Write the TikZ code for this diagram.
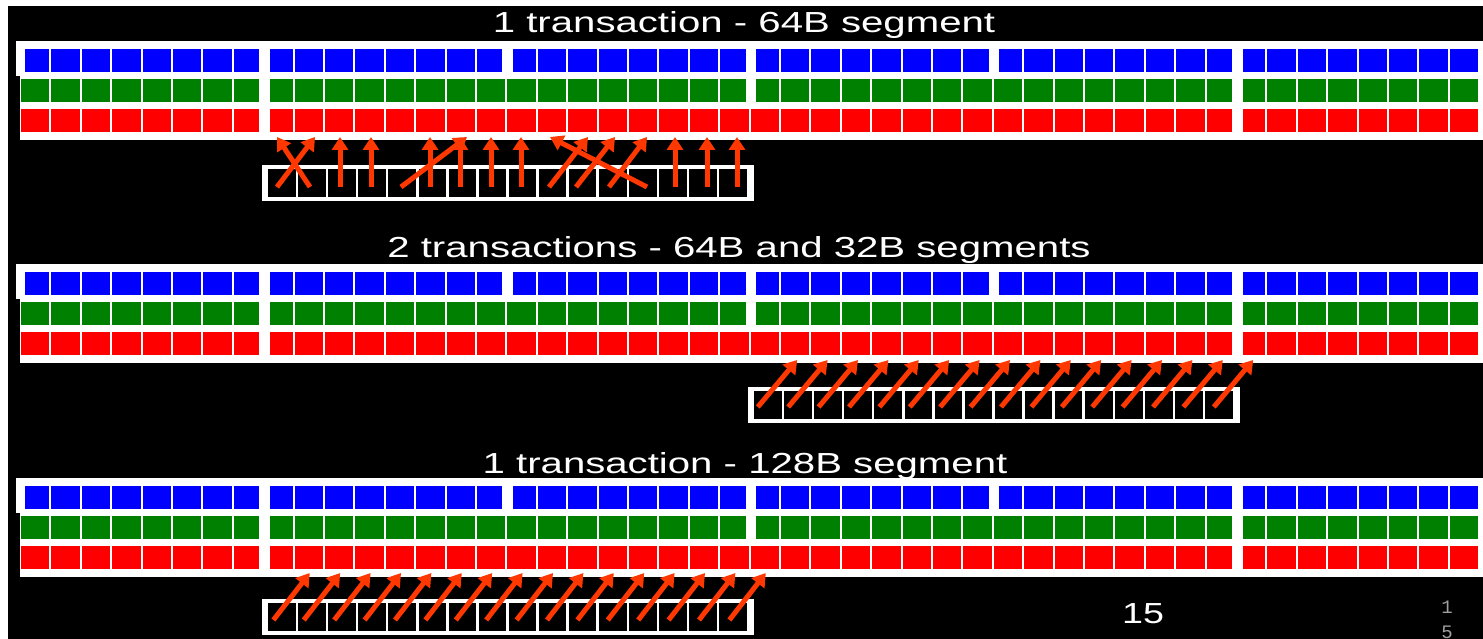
\documentclass[tikz,border=0pt]{standalone}
\usepackage{fontspec}
\setmainfont{Liberation Sans}
\newfontfamily\monofnt{Liberation Mono}
\usetikzlibrary{arrows.meta}
\definecolor{cblue}{RGB}{0,0,255}
\definecolor{cgreen}{RGB}{0,128,0}
\definecolor{cred}{RGB}{255,0,0}
\definecolor{carrow}{RGB}{255,55,0}
\definecolor{cnum}{RGB}{160,160,160}

% memory panel: #1 = top of the white band
\newcommand\mempanel[1]{%
  \fill[white] (16,#1) rectangle (1483,{#1+35});
  \fill[white] (20,{#1+35}) rectangle (1483,{#1+99});
  \foreach \k in {0,...,47}{%
    \fill[cblue]  ({20+30.4*\k+1},{#1+8})  rectangle ({20+30.4*(\k+1)-1},{#1+31});
    \fill[cgreen] ({20+30.4*\k+1},{#1+38}) rectangle ({20+30.4*(\k+1)-1},{#1+61});
    \fill[cred]   ({20+30.4*\k+1},{#1+68}) rectangle ({20+30.4*(\k+1)-1},{#1+91});
  }
  \fill[white] (16,{#1+8}) rectangle (25,{#1+31});
  \foreach \k in {8,16,24,32,40}{%
    \fill[white] ({20+30.4*\k-4},{#1+8}) rectangle ({20+30.4*\k+6.5},{#1+31});}
  \foreach \k in {8,24,40}{%
    \fill[white] ({20+30.4*\k-4},{#1+38}) rectangle ({20+30.4*\k+6.5},{#1+61});}
  \foreach \k in {8,40}{%
    \fill[white] ({20+30.4*\k-4},{#1+68}) rectangle ({20+30.4*\k+6.5},{#1+91});}
}

% thread box: #1 = left, #2 = top
\newcommand\threadbox[2]{%
  \fill[white] (#1,#2) rectangle ({#1+492},{#2+36});
  \foreach \i in {0,...,15}{%
    \fill[black] ({#1+5+30.06*\i+1.2},{#2+4}) rectangle ({#1+5+30.06*(\i+1)-1.2},{#2+32});}
}

\begin{document}
\begin{tikzpicture}[x=1pt,y=-1pt,
  memarrow/.style={draw=carrow, line width=5pt, -{Triangle[width=16pt,length=13pt]}},
  title/.style={text=white, font=\fontsize{29}{29}\selectfont, anchor=base, inner sep=0pt}]
\useasboundingbox (0,0) rectangle (1483,639);
\fill[white] (0,0) rectangle (1483,639);
\fill[black] (8,6) rectangle (1483,639);

% titles
\node[title] (t1) at (744,33)  {\scalebox{1.385}[1]{1 transaction - 64B segment}};
\node[title] (t2) at (739,257) {\scalebox{1.385}[1]{2 transactions - 64B and 32B segments}};
\node[title] (t3) at (745,473) {\scalebox{1.385}[1]{1 transaction - 128B segment}};

% memory panels
\mempanel{41}
\mempanel{264}
\mempanel{478}

% thread boxes
\threadbox{262}{165}
\threadbox{748}{387}
\threadbox{262}{599}

% panel 1 arrows
\foreach \n/\tx/\hx in {a/310/277, b/277/315, c/340/340, d/371/371, e/401/467,
    f/430/430, g/460/460, h/491/491, i/521/521, j/647/550, k/549/588,
    l/576/615, m/609/647, n/675/675, o/707/707, p/737/737}{%
  \coordinate (P1t\n) at (\tx,187);
  \coordinate (P1h\n) at (\hx,137);
  \draw[memarrow] (P1t\n) -- (P1h\n);
}

% panel 2 arrows
\foreach \i in {0,...,15}{%
  \coordinate (P2t\i) at ({35.2+30.4*(24+\i)-7},407);
  \coordinate (P2h\i) at ({35.2+30.4*(25+\i)+2},360);
  \draw[memarrow] (P2t\i) -- (P2h\i);
}

% panel 3 arrows
\foreach \i in {0,...,15}{%
  \coordinate (P3t\i) at ({35.2+30.4*(8+\i)-5},620);
  \coordinate (P3h\i) at ({35.2+30.4*(9+\i)+1},573);
  \draw[memarrow] (P3t\i) -- (P3h\i);
}

% page numbers
\node[title] (pg) at (1143,623) {\scalebox{1.3}[1]{15}};
\node[text=cnum, font=\monofnt\fontsize{19}{19}\selectfont, anchor=base, inner sep=0pt] (pga) at (1447,613) {1};
\node[text=cnum, font=\monofnt\fontsize{19}{19}\selectfont, anchor=base, inner sep=0pt] (pgb) at (1447,638) {5};
\end{tikzpicture}
\end{document}
